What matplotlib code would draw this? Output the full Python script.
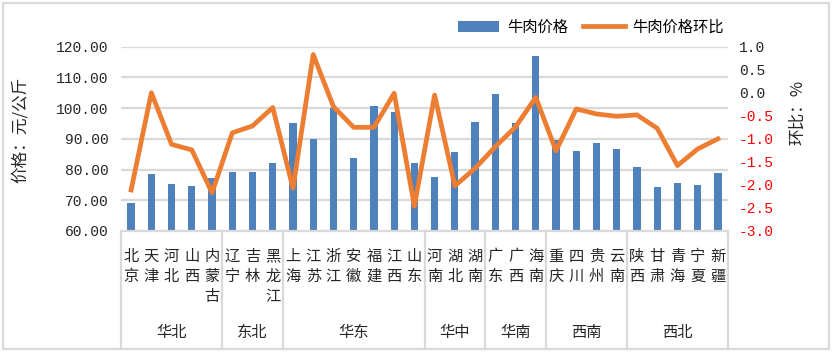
import matplotlib
matplotlib.use('Agg')
import matplotlib.pyplot as plt
from matplotlib.patches import Rectangle

plt.rcParams['font.family'] = ['Noto Sans CJK SC', 'DejaVu Sans']

provinces = ['北京', '天津', '河北', '山西', '内蒙古',
             '辽宁', '吉林', '黑龙江',
             '上海', '江苏', '浙江', '安徽', '福建', '江西', '山东',
             '河南', '湖北', '湖南',
             '广东', '广西', '海南',
             '重庆', '四川', '贵州', '云南',
             '陕西', '甘肃', '青海', '宁夏', '新疆']
regions = ['华北', '东北', '华东', '华中', '华南', '西南', '西北']
region_sizes = [5, 3, 7, 3, 3, 4, 5]

price = [69.2, 78.6, 75.3, 74.6, 77.1,
         79.2, 79.2, 82.1,
         95.2, 90.0, 100.1, 83.8, 100.7, 98.6, 82.2,
         77.6, 85.8, 95.5,
         104.6, 95.2, 117.0,
         89.6, 86.1, 88.7, 86.7,
         80.9, 74.3, 75.6, 74.9, 78.9]
change = [-2.11, 0.00, -1.12, -1.24, -2.17,
          -0.87, -0.72, -0.32,
          -2.07, 0.83, -0.30, -0.75, -0.75, -0.01, -2.46,
          -0.05, -2.02, -1.64,
          -1.17, -0.74, -0.10,
          -1.26, -0.35, -0.46, -0.51,
          -0.48, -0.77, -1.58, -1.22, -1.00]

left_ticks = [60, 70, 80, 90, 100, 110, 120]
right_ticks = [-3.0, -2.5, -2.0, -1.5, -1.0, -0.5, 0.0, 0.5, 1.0]

blue = '#4F81BD'
orange = '#ED7D31'
grid = '#D9D9D9'
num_font = 'Liberation Mono'

fig = plt.figure(figsize=(8.33, 3.52), dpi=100)
ax = fig.add_axes([121 / 833, 1 - 231 / 352, 607 / 833, 184.3 / 352])
x = list(range(len(provinces)))

ax.bar(x, price, width=0.36, color=blue, label='牛肉价格', zorder=2)
ax.set_xlim(-0.5, len(provinces) - 0.5)
ax.set_ylim(60, 120)
ax.set_yticks(left_ticks)
ax.set_yticklabels(['%.2f' % v for v in left_ticks], fontfamily=num_font, fontsize=10.5)
ax.yaxis.grid(True, color=grid, lw=1.6)
ax.set_axisbelow(True)
ax.tick_params(axis='y', length=0, pad=9, colors='#262626')
ax.set_xticks([])
for s in ['top', 'left', 'right']:
    ax.spines[s].set_visible(False)
ax.spines['bottom'].set_color(grid)
ax.spines['bottom'].set_linewidth(1.6)

ax2 = ax.twinx()
ax2.plot(x, change, color=orange, lw=3.4, label='牛肉价格环比')
ax2.set_ylim(-3, 1)
ax2.set_yticks(right_ticks)
ax2.set_yticklabels(['%.1f' % v for v in right_ticks], fontfamily=num_font, fontsize=10.5)
for lab, v in zip(ax2.get_yticklabels(), right_ticks):
    lab.set_color('#FF0000' if v < 0 else '#262626')
ax2.tick_params(axis='y', length=0, pad=8)
for s in ['top', 'left', 'right', 'bottom']:
    ax2.spines[s].set_visible(False)

# province labels, one character per line
for i, name in enumerate(provinces):
    ax.annotate('\n'.join(name), xy=(i, 0), xycoords=('data', 'axes fraction'),
                xytext=(0, -12), textcoords='offset points', ha='center', va='top',
                fontsize=11, linespacing=1.25, color='#262626')

# region labels and separators
start = 0
bounds = [0]
for reg, n in zip(regions, region_sizes):
    ax.annotate(reg, xy=(start + (n - 1) / 2, 0), xycoords=('data', 'axes fraction'),
                xytext=(0, -73), textcoords='offset points', ha='center', va='center',
                fontsize=11, color='#262626')
    start += n
    bounds.append(start)
for b in bounds:
    ax.plot([b - 0.5, b - 0.5], [0, -0.64], transform=ax.get_xaxis_transform(),
            color=grid, lw=1.6, clip_on=False)

fig.text(20 / 833, 1 - 130 / 352, '价格：元/公斤', rotation=90, ha='center', va='center',
         fontsize=12, color='#262626')
fig.text(798 / 833, 1 - 112 / 352, '环比：%', rotation=90, ha='center', va='center',
         fontsize=12, color='#262626')

h1, l1 = ax.get_legend_handles_labels()
h2, l2 = ax2.get_legend_handles_labels()
fig.legend(h1 + h2, l1 + l2, loc='center', bbox_to_anchor=(591 / 833, 1 - 27 / 352),
           ncol=2, frameon=False, fontsize=11, handlelength=2.7, columnspacing=1.0,
           handletextpad=0.5)

fig.patches.append(Rectangle((3 / 833, 3 / 352), 826 / 833, 346 / 352, transform=fig.transFigure,
                             fill=False, edgecolor=grid, lw=1.6))

fig.savefig('out.png', dpi=100)
